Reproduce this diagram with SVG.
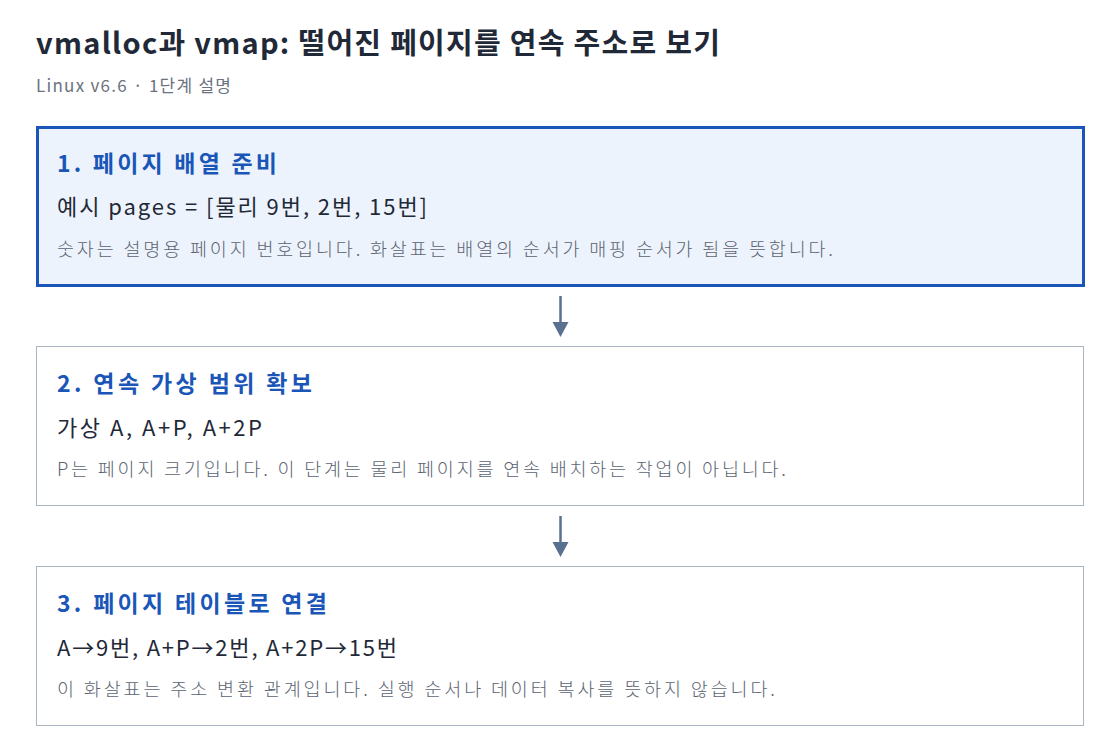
<svg xmlns="http://www.w3.org/2000/svg" width="1120" height="754" viewBox="0 0 1120 754">
<style>
text{font-family:"Noto Sans CJK KR","Noto Sans",sans-serif}
.title{font-size:29px;font-weight:700;fill:#1f2937}
.sub{font-size:17px;fill:#6b7280}
.h{font-size:23px;font-weight:700;fill:#1a56b8}
.b{font-size:22px;fill:#1f2937}
.n{font-size:18.5px;font-weight:300;fill:#5b6472}
.box{fill:#ffffff;stroke:#aab6c6;stroke-width:1}
.hl{fill:#edf3fc;stroke:#1a56b8;stroke-width:3}
.arr{stroke:#5a7090;stroke-width:2.5;fill:none}
.head{fill:#5a7090}
</style>
<rect width="1120" height="754" fill="#ffffff"/>
<text class="title" x="36" y="54" textLength="684" lengthAdjust="spacing">vmalloc과 vmap: 떨어진 페이지를 연속 주소로 보기</text>
<text class="sub" x="36" y="92" textLength="195" lengthAdjust="spacing">Linux v6.6 · 1단계 설명</text>
<g id="connectors">
<line class="arr" x1="560.5" y1="296" x2="560.5" y2="324"/>
<path class="head" d="M552.5,322 L568.5,322 L560.5,337 Z"/>
<line class="arr" x1="560.5" y1="516" x2="560.5" y2="544"/>
<path class="head" d="M552.5,542 L568.5,542 L560.5,557 Z"/>
</g>
<g id="step1">
<rect class="hl" x="37.5" y="127.5" width="1046" height="158"/>
<text class="h" x="57" y="172" textLength="220" lengthAdjust="spacing">1. 페이지 배열 준비</text>
<text class="b" x="57" y="215" textLength="370" lengthAdjust="spacing">예시 pages = [물리 9번, 2번, 15번]</text>
<text class="n" x="57" y="256" textLength="776" lengthAdjust="spacing">숫자는 설명용 페이지 번호입니다. 화살표는 배열의 순서가 매핑 순서가 됨을 뜻합니다.</text>
</g>
<g id="step2">
<rect class="box" x="36.5" y="346.5" width="1047" height="159"/>
<text class="h" x="57" y="392" textLength="255" lengthAdjust="spacing">2. 연속 가상 범위 확보</text>
<text class="b" x="57" y="436" textLength="205" lengthAdjust="spacing">가상 A, A+P, A+2P</text>
<text class="n" x="57" y="476" textLength="729" lengthAdjust="spacing">P는 페이지 크기입니다. 이 단계는 물리 페이지를 연속 배치하는 작업이 아닙니다.</text>
</g>
<g id="step3">
<rect class="box" x="36.5" y="566.5" width="1047" height="159"/>
<text class="h" x="57" y="612" textLength="270" lengthAdjust="spacing">3. 페이지 테이블로 연결</text>
<text class="b" x="57" y="656" textLength="340" lengthAdjust="spacing">A→9번, A+P→2번, A+2P→15번</text>
<text class="n" x="57" y="696" textLength="718" lengthAdjust="spacing">이 화살표는 주소 변환 관계입니다. 실행 순서나 데이터 복사를 뜻하지 않습니다.</text>
</g>
</svg>
